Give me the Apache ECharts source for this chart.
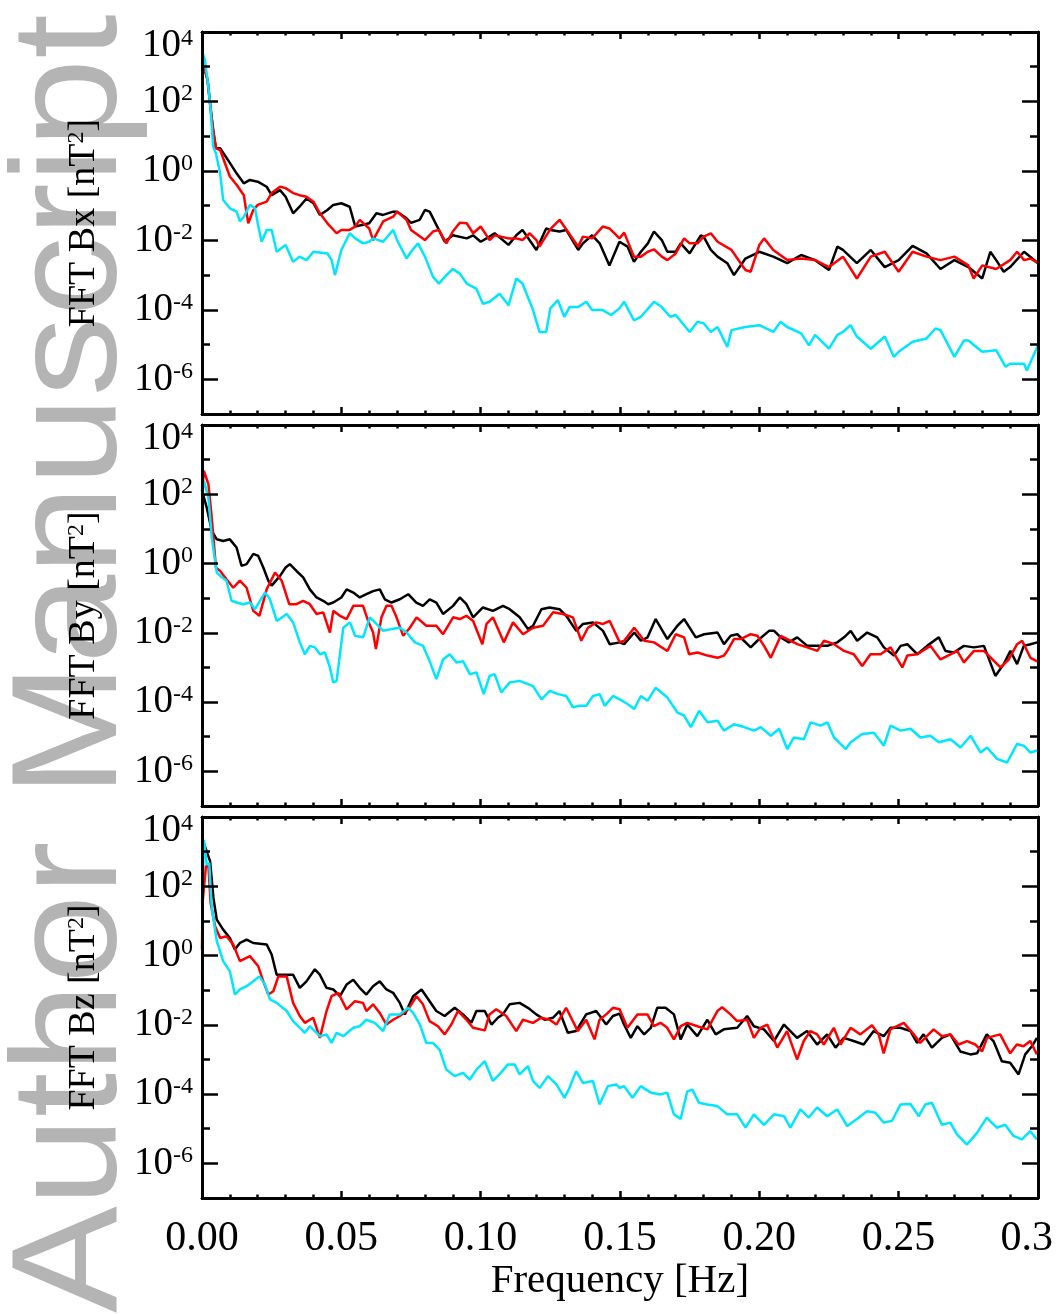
<!DOCTYPE html>
<html><head><meta charset="utf-8">
<script src="https://cdn.jsdelivr.net/npm/echarts@6/dist/echarts.min.js"></script>
<style>html,body{margin:0;padding:0;background:#fff}
.layer{position:absolute;left:0;top:0;width:1056px;height:1314px}
#wm{z-index:0}#c{z-index:1}#tk{z-index:2}</style>
</head><body><div id="wm" class="layer"></div><div id="c" class="layer"></div><div id="tk" class="layer"></div>
<script>
// ---------- DATA (frequency [Hz], power [nT^2]) ----------
const X_MIN = 0, X_MAX = 0.3, Y_MIN = 1e-7, Y_MAX = 1e4;
const yMajorTicks = [1e-6, 1e-4, 1e-2, 1, 1e2, 1e4];
const yMinorTicks = [1e-5, 1e-3, 1e-1, 10, 1e3];
const panelNames = ['Bx', 'By', 'Bz'];
const watermarkText = 'Author Manuscript';

const bxBlack = [[0,1300],[0.001,820],[0.002,420],[0.003,72],[0.004,15],[0.005,4.5],[0.0065,4.5],[0.010,1.7],[0.0124,0.85],[0.015,0.44],[0.0172,0.55],[0.020,0.49],[0.0232,0.35],[0.025,0.20],[0.028,0.28],[0.030,0.18],[0.0327,0.060],[0.035,0.093],[0.0375,0.16],[0.040,0.117],[0.0423,0.054],[0.045,0.075],[0.0471,0.105],[0.050,0.117],[0.053,0.093],[0.055,0.025],[0.0578,0.028],[0.060,0.031],[0.0626,0.060],[0.065,0.054],[0.0686,0.067],[0.070,0.067],[0.0734,0.043],[0.075,0.032],[0.0781,0.039],[0.080,0.075],[0.0817,0.067],[0.085,0.020],[0.0871,0.0091],[0.090,0.014],[0.095,0.0114],[0.0973,0.014],[0.100,0.0091],[0.1032,0.0128],[0.105,0.016],[0.110,0.0074],[0.1128,0.014],[0.115,0.020],[0.120,0.0053],[0.1235,0.022],[0.125,0.020],[0.1283,0.018],[0.1307,0.020],[0.135,0.0053],[0.1367,0.0082],[0.140,0.014],[0.1427,0.0082],[0.1462,0.0019],[0.1498,0.0091],[0.1527,0.0066],[0.155,0.0024],[0.1575,0.0047],[0.160,0.0082],[0.1622,0.018],[0.165,0.0102],[0.167,0.0047],[0.170,0.0047],[0.1718,0.0082],[0.175,0.0042],[0.179,0.014],[0.180,0.0128],[0.1826,0.0053],[0.185,0.0034],[0.1885,0.0022],[0.1909,0.0010],[0.195,0.0030],[0.200,0.0047],[0.205,0.0034],[0.210,0.0022],[0.215,0.0038],[0.220,0.0027],[0.225,0.0014],[0.228,0.0066],[0.230,0.0053],[0.235,0.0022],[0.240,0.0053],[0.245,0.0017],[0.250,0.0027],[0.255,0.0069],[0.260,0.0042],[0.265,0.0015],[0.270,0.0027],[0.275,0.0017],[0.280,8.0e-4],[0.2829,0.0047],[0.285,0.0027],[0.2877,0.00125],[0.290,0.0017],[0.295,0.0047],[0.300,0.0022]];
const bxRed = [[0,1150],[0.001,820],[0.002,420],[0.003,72],[0.004,15],[0.005,4.5],[0.0065,4.0],[0.010,0.69],[0.0124,0.40],[0.015,0.20],[0.0166,0.031],[0.0184,0.075],[0.020,0.105],[0.0232,0.13],[0.025,0.23],[0.028,0.35],[0.030,0.32],[0.0327,0.23],[0.035,0.20],[0.0375,0.18],[0.040,0.13],[0.0423,0.060],[0.045,0.031],[0.0483,0.016],[0.050,0.020],[0.053,0.020],[0.055,0.025],[0.0566,0.039],[0.060,0.022],[0.0614,0.0102],[0.065,0.035],[0.0686,0.048],[0.070,0.067],[0.0734,0.039],[0.075,0.020],[0.080,0.0102],[0.0829,0.018],[0.085,0.020],[0.0877,0.0082],[0.090,0.018],[0.0925,0.032],[0.095,0.031],[0.0973,0.016],[0.100,0.025],[0.1032,0.0102],[0.105,0.014],[0.110,0.0114],[0.1128,0.0114],[0.115,0.0102],[0.1176,0.016],[0.120,0.0102],[0.1211,0.0066],[0.125,0.021],[0.1283,0.039],[0.130,0.025],[0.135,0.0066],[0.1367,0.0128],[0.140,0.0114],[0.1438,0.025],[0.1462,0.022],[0.1498,0.0114],[0.1515,0.0167],[0.155,0.0034],[0.1575,0.0034],[0.160,0.0047],[0.1622,0.0055],[0.165,0.0034],[0.167,0.0027],[0.170,0.0042],[0.173,0.0114],[0.175,0.0082],[0.1778,0.0082],[0.180,0.0128],[0.1826,0.016],[0.185,0.0091],[0.190,0.0053],[0.195,0.0014],[0.1969,0.00125],[0.200,0.0074],[0.2017,0.0114],[0.205,0.0053],[0.210,0.0027],[0.215,0.0030],[0.220,0.0027],[0.225,0.0017],[0.230,0.0034],[0.235,8.0e-4],[0.240,0.0034],[0.245,0.0047],[0.250,0.00125],[0.255,0.0047],[0.260,0.0034],[0.265,0.0027],[0.270,0.0034],[0.275,0.0019],[0.2769,8.0e-4],[0.280,0.0019],[0.285,0.0015],[0.290,0.0027],[0.2925,0.0047],[0.295,0.0027],[0.2973,0.0030],[0.300,0.0022]];
const bxCyan = [[0,2800],[0.001,1600],[0.002,420],[0.003,72],[0.004,5.0],[0.005,3.2],[0.0065,0.85],[0.0076,0.145],[0.010,0.084],[0.0124,0.067],[0.0136,0.035],[0.015,0.048],[0.0172,0.105],[0.019,0.084],[0.020,0.031],[0.0214,0.0091],[0.0232,0.020],[0.025,0.020],[0.0268,0.0047],[0.030,0.0074],[0.0327,0.0024],[0.035,0.0034],[0.0375,0.0027],[0.040,0.0047],[0.045,0.0042],[0.0465,0.0027],[0.0477,0.0010],[0.050,0.0053],[0.053,0.016],[0.055,0.0114],[0.0578,0.0082],[0.060,0.0091],[0.0614,0.0114],[0.065,0.0091],[0.0686,0.020],[0.070,0.0102],[0.0734,0.0030],[0.075,0.0047],[0.0775,0.0082],[0.080,0.0034],[0.0829,8.9e-4],[0.085,5.7e-4],[0.0877,0.0010],[0.090,0.0015],[0.0925,0.0011],[0.095,5.7e-4],[0.0984,4.1e-4],[0.1008,1.5e-4],[0.1032,1.7e-4],[0.1068,2.9e-4],[0.110,1.35e-4],[0.1128,8.0e-4],[0.115,5.7e-4],[0.1188,9.8e-5],[0.1211,2.3e-5],[0.1235,2.3e-5],[0.125,1.1e-4],[0.1277,1.9e-4],[0.130,6.3e-5],[0.1319,1.2e-4],[0.135,1.2e-4],[0.1379,1.7e-4],[0.140,9.8e-5],[0.1438,9.8e-5],[0.1468,7.1e-5],[0.1498,1.1e-4],[0.1515,1.7e-4],[0.155,5.0e-5],[0.1575,6.3e-5],[0.1622,1.7e-4],[0.165,1.2e-4],[0.168,6.3e-5],[0.170,7.1e-5],[0.175,2.3e-5],[0.1778,4.5e-5],[0.180,4.1e-5],[0.1826,2.3e-5],[0.185,3.2e-5],[0.1885,8.5e-6],[0.190,2.6e-5],[0.195,3.2e-5],[0.200,3.6e-5],[0.205,2.3e-5],[0.2076,4.5e-5],[0.210,3.2e-5],[0.215,2.1e-5],[0.2178,9.5e-6],[0.220,1.9e-5],[0.225,7.6e-6],[0.228,1.9e-5],[0.230,2.3e-5],[0.2327,3.6e-5],[0.235,1.7e-5],[0.240,7.6e-6],[0.245,1.7e-5],[0.2483,4.4e-6],[0.250,6.2e-6],[0.255,1.2e-5],[0.260,1.5e-5],[0.2632,2.9e-5],[0.265,2.6e-5],[0.270,4.4e-6],[0.2734,1.3e-5],[0.275,1.3e-5],[0.280,6.2e-6],[0.285,6.9e-6],[0.2883,2.3e-6],[0.290,2.8e-6],[0.295,2.8e-6],[0.296,1.8e-6],[0.300,9.5e-6]];

const byBlack = [[0,125],[0.0017,41],[0.0035,8.8],[0.0053,5.0],[0.0076,4.5],[0.0100,5.0],[0.0124,2.9],[0.0142,0.86],[0.0160,0.96],[0.0184,1.9],[0.0202,1.66],[0.0220,0.77],[0.0238,0.32],[0.0250,0.23],[0.0280,0.44],[0.0300,0.77],[0.0315,0.96],[0.0339,0.61],[0.0363,0.40],[0.0387,0.18],[0.0411,0.105],[0.0435,0.084],[0.0453,0.067],[0.0471,0.075],[0.0500,0.105],[0.0519,0.18],[0.0543,0.145],[0.0566,0.105],[0.0590,0.13],[0.0614,0.16],[0.0638,0.18],[0.0656,0.093],[0.0680,0.075],[0.0710,0.093],[0.0740,0.13],[0.0769,0.075],[0.0793,0.060],[0.0817,0.093],[0.0841,0.075],[0.0865,0.035],[0.0901,0.060],[0.0925,0.105],[0.0949,0.067],[0.0973,0.028],[0.1008,0.054],[0.1044,0.043],[0.1080,0.060],[0.1104,0.048],[0.1140,0.028],[0.1170,0.0128],[0.1188,0.016],[0.1218,0.048],[0.1247,0.054],[0.1283,0.048],[0.1307,0.031],[0.1343,0.0114],[0.1367,0.018],[0.1403,0.020],[0.1439,0.0114],[0.1463,0.0047],[0.1499,0.0053],[0.1515,0.0047],[0.1551,0.0102],[0.1575,0.0059],[0.1599,0.0074],[0.1628,0.025],[0.1670,0.0066],[0.1706,0.016],[0.1730,0.025],[0.1772,0.0074],[0.1802,0.0091],[0.1850,0.0102],[0.1873,0.0047],[0.1897,0.0082],[0.1921,0.0091],[0.1969,0.0038],[0.1993,0.0059],[0.2035,0.0114],[0.2053,0.0114],[0.2077,0.0074],[0.2106,0.0053],[0.2136,0.0074],[0.2172,0.0042],[0.2208,0.0042],[0.2244,0.0042],[0.2280,0.0053],[0.2304,0.0074],[0.2328,0.0114],[0.2351,0.0059],[0.2387,0.0102],[0.2423,0.0074],[0.2447,0.0038],[0.2483,0.0022],[0.2507,0.0042],[0.2531,0.0047],[0.2567,0.0024],[0.2602,0.0042],[0.2644,0.0074],[0.2668,0.0030],[0.2698,0.0027],[0.2734,0.0042],[0.2770,0.0038],[0.2806,0.0042],[0.2847,5.7e-4],[0.2877,0.00125],[0.2901,0.0030],[0.2925,0.00125],[0.2949,0.0042],[0.2973,0.0047],[0.2997,0.0053]];
const byRed = [[0,125],[0.0007,470],[0.0023,195],[0.0035,21],[0.0050,0.77],[0.0065,0.61],[0.0088,0.35],[0.0112,0.20],[0.0136,0.32],[0.0160,0.20],[0.0184,0.043],[0.0206,0.031],[0.0232,0.18],[0.0262,0.55],[0.0286,0.32],[0.0313,0.067],[0.0339,0.067],[0.0363,0.084],[0.0387,0.067],[0.0411,0.035],[0.0435,0.039],[0.0459,0.0102],[0.0471,0.043],[0.0495,0.031],[0.0519,0.025],[0.0543,0.060],[0.0578,0.060],[0.0596,0.022],[0.0614,0.0102],[0.0624,0.0034],[0.0644,0.028],[0.0662,0.060],[0.0680,0.060],[0.0698,0.028],[0.0722,0.0082],[0.0746,0.014],[0.0770,0.028],[0.0805,0.016],[0.0841,0.016],[0.0865,0.0091],[0.0901,0.028],[0.0925,0.025],[0.0949,0.031],[0.0973,0.022],[0.1006,0.0047],[0.1021,0.018],[0.1044,0.028],[0.1083,0.0053],[0.1116,0.020],[0.1152,0.0091],[0.1188,0.014],[0.1224,0.016],[0.1260,0.039],[0.1295,0.035],[0.1331,0.028],[0.1361,0.0059],[0.1385,0.014],[0.1415,0.020],[0.1439,0.018],[0.1463,0.022],[0.1499,0.0053],[0.1515,0.0059],[0.1551,0.014],[0.1587,0.0059],[0.1622,0.0053],[0.1670,0.0030],[0.1700,0.0091],[0.1730,0.0074],[0.1748,0.0024],[0.1778,0.0027],[0.1814,0.0022],[0.1850,0.0019],[0.1873,0.0022],[0.1885,0.0030],[0.1909,0.0066],[0.1933,0.0066],[0.1969,0.0091],[0.1993,0.0082],[0.2017,0.0042],[0.2041,0.0019],[0.2077,0.0082],[0.2100,0.0066],[0.2136,0.0047],[0.2172,0.0038],[0.2208,0.0030],[0.2232,0.0059],[0.2268,0.0047],[0.2304,0.0030],[0.2339,0.0024],[0.2369,0.0011],[0.2399,0.0024],[0.2435,0.0024],[0.2471,0.0038],[0.2513,0.0010],[0.2531,0.0022],[0.2567,0.0024],[0.2614,0.0042],[0.2650,0.0017],[0.2686,0.0024],[0.2710,0.0030],[0.2734,0.0014],[0.2770,0.0030],[0.2806,0.0030],[0.2865,0.0010],[0.2895,0.0017],[0.2925,0.0047],[0.2943,0.0059],[0.2973,0.0019],[0.2997,0.0015]];
const byCyan = [[0,100],[0.0007,240],[0.0023,80],[0.0035,5.6],[0.0053,0.55],[0.0071,0.40],[0.0088,0.32],[0.0106,0.084],[0.0124,0.075],[0.0148,0.067],[0.0172,0.075],[0.0190,0.048],[0.0226,0.145],[0.0244,0.093],[0.0268,0.022],[0.0304,0.035],[0.0327,0.020],[0.0351,0.0053],[0.0369,0.0024],[0.0387,0.0042],[0.0405,0.0038],[0.0423,0.0024],[0.0441,0.0027],[0.0459,0.0010],[0.0471,3.7e-4],[0.0483,4.1e-4],[0.0507,0.014],[0.0531,0.020],[0.0549,0.0082],[0.0578,0.0074],[0.0602,0.028],[0.0626,0.018],[0.0650,0.0114],[0.0680,0.0128],[0.0710,0.014],[0.0734,0.0102],[0.0764,0.0053],[0.0793,0.0042],[0.0817,0.0015],[0.0841,4.6e-4],[0.0865,0.0017],[0.0889,0.0024],[0.0913,0.0014],[0.0937,0.0015],[0.0961,6.4e-4],[0.0985,7.2e-4],[0.1011,1.7e-4],[0.1032,5.7e-4],[0.1050,6.4e-4],[0.1074,1.9e-4],[0.1104,3.7e-4],[0.1140,4.1e-4],[0.1170,3.3e-4],[0.1188,2.9e-4],[0.1218,1.2e-4],[0.1248,2.1e-4],[0.1278,1.7e-4],[0.1307,1.5e-4],[0.1331,7.1e-5],[0.1355,7.8e-5],[0.1379,7.8e-5],[0.1403,1.5e-4],[0.1427,1.7e-4],[0.1445,7.8e-5],[0.1475,1.5e-4],[0.1499,1.2e-4],[0.1527,8.8e-5],[0.1551,6.3e-5],[0.1575,1.5e-4],[0.1599,1.1e-4],[0.1628,2.6e-4],[0.1670,1.35e-4],[0.1706,5.0e-5],[0.1730,4.1e-5],[0.1754,1.9e-5],[0.1784,5.6e-5],[0.1814,2.6e-5],[0.1850,2.9e-5],[0.1873,1.5e-5],[0.1909,2.3e-5],[0.1945,1.9e-5],[0.1981,1.5e-5],[0.2005,1.9e-5],[0.2041,1.07e-5],[0.2071,1.7e-5],[0.2100,4.4e-6],[0.2124,9.5e-6],[0.2160,8.5e-6],[0.2184,2.6e-5],[0.2220,2.1e-5],[0.2244,2.6e-5],[0.2268,9.5e-6],[0.2310,4.4e-6],[0.2328,6.9e-6],[0.2369,1.2e-5],[0.2411,1.3e-5],[0.2447,5.5e-6],[0.2471,2.1e-5],[0.2507,1.5e-5],[0.2543,1.7e-5],[0.2578,9.5e-6],[0.2614,1.07e-5],[0.2644,6.9e-6],[0.2686,8.5e-6],[0.2722,4.9e-6],[0.2758,1.07e-5],[0.2794,3.5e-6],[0.2817,4.9e-6],[0.2853,2.3e-6],[0.2889,1.8e-6],[0.2925,6.2e-6],[0.2949,5.5e-6],[0.2973,3.5e-6],[0.2997,4.0e-6]];

const bzBlack = [[0,2500],[0.0017,1000],[0.0029,530],[0.0041,46],[0.0053,10.9],[0.0076,5.6],[0.0100,3.2],[0.0118,1.49],[0.0136,2.3],[0.0160,2.9],[0.0184,2.3],[0.0208,2.2],[0.0232,2.1],[0.0250,1.07],[0.0268,0.28],[0.0292,0.28],[0.0327,0.28],[0.0351,0.117],[0.0375,0.18],[0.0405,0.40],[0.0423,0.28],[0.0447,0.117],[0.0471,0.105],[0.0495,0.067],[0.0519,0.145],[0.0543,0.20],[0.0566,0.117],[0.0590,0.075],[0.0614,0.13],[0.0638,0.18],[0.0662,0.105],[0.0686,0.084],[0.0710,0.043],[0.0728,0.020],[0.0758,0.067],[0.0788,0.105],[0.0817,0.048],[0.0841,0.025],[0.0871,0.018],[0.0907,0.031],[0.0937,0.020],[0.0967,0.0114],[0.0985,0.025],[0.1015,0.025],[0.1039,0.0102],[0.1062,0.016],[0.1080,0.020],[0.1104,0.039],[0.1140,0.043],[0.1170,0.031],[0.1200,0.020],[0.1230,0.014],[0.1260,0.016],[0.1283,0.025],[0.1313,0.0059],[0.1343,0.0066],[0.1379,0.020],[0.1415,0.025],[0.1451,0.0102],[0.1475,0.018],[0.1499,0.021],[0.1515,0.0102],[0.1539,0.0042],[0.1563,0.0091],[0.1587,0.0053],[0.1611,0.0082],[0.1634,0.031],[0.1664,0.031],[0.1694,0.020],[0.1718,0.0038],[0.1742,0.0102],[0.1778,0.0047],[0.1814,0.014],[0.1844,0.0053],[0.1873,0.0074],[0.1921,0.0082],[0.1957,0.018],[0.1981,0.0091],[0.2017,0.0074],[0.2053,0.0034],[0.2089,0.0102],[0.2136,0.0042],[0.2172,0.0066],[0.2208,0.0027],[0.2244,0.0053],[0.2274,0.0022],[0.2304,0.0042],[0.2339,0.0034],[0.2375,0.0027],[0.2411,0.0066],[0.2447,0.0047],[0.2471,0.0082],[0.2507,0.0082],[0.2543,0.0066],[0.2567,0.0030],[0.2590,0.0053],[0.2620,0.0022],[0.2656,0.0042],[0.2686,0.0053],[0.2722,0.0017],[0.2758,0.0014],[0.2782,0.0015],[0.2817,0.0053],[0.2841,0.0034],[0.2871,8.9e-4],[0.2901,8.0e-4],[0.2931,3.7e-4],[0.2955,0.0014],[0.2979,0.0024],[0.2997,0.0042]];
const bzRed = [[0,1.5],[0.0002,33],[0.0014,380],[0.0023,380],[0.0031,33],[0.0047,7.0],[0.0065,3.2],[0.0088,3.6],[0.0112,2.1],[0.0136,0.69],[0.0172,0.96],[0.0202,0.49],[0.0220,0.18],[0.0238,0.075],[0.0256,0.093],[0.0274,0.25],[0.0304,0.25],[0.0327,0.043],[0.0351,0.018],[0.0369,0.0114],[0.0399,0.016],[0.0423,0.0042],[0.0447,0.025],[0.0465,0.067],[0.0489,0.084],[0.0519,0.028],[0.0549,0.048],[0.0578,0.043],[0.0590,0.025],[0.0614,0.039],[0.0638,0.022],[0.0662,0.0102],[0.0686,0.014],[0.0710,0.018],[0.0740,0.028],[0.0770,0.067],[0.0793,0.039],[0.0817,0.0128],[0.0847,0.0091],[0.0871,0.0053],[0.0895,0.0102],[0.0919,0.025],[0.0949,0.014],[0.0973,0.0082],[0.1015,0.0069],[0.1032,0.020],[0.1056,0.028],[0.1092,0.018],[0.1128,0.0066],[0.1152,0.014],[0.1188,0.0114],[0.1218,0.016],[0.1248,0.014],[0.1272,0.0102],[0.1307,0.031],[0.1349,0.0066],[0.1379,0.014],[0.1409,0.0038],[0.1427,0.014],[0.1451,0.020],[0.1475,0.031],[0.1499,0.028],[0.1527,0.0082],[0.1563,0.020],[0.1599,0.020],[0.1622,0.0091],[0.1646,0.0114],[0.1670,0.0082],[0.1694,0.0038],[0.1718,0.0091],[0.1742,0.0114],[0.1778,0.0091],[0.1814,0.0074],[0.1850,0.025],[0.1867,0.032],[0.1897,0.020],[0.1921,0.0128],[0.1957,0.014],[0.1981,0.0042],[0.2005,0.0082],[0.2029,0.0102],[0.2065,0.0022],[0.2100,0.0066],[0.2136,0.0010],[0.2160,0.0034],[0.2184,0.0066],[0.2208,0.0053],[0.2232,0.0027],[0.2268,0.0082],[0.2292,0.0027],[0.2328,0.0082],[0.2363,0.0053],[0.2405,0.0097],[0.2429,0.0053],[0.2447,0.0015],[0.2471,0.0074],[0.2519,0.0114],[0.2555,0.0053],[0.2578,0.0030],[0.2626,0.0074],[0.2656,0.0047],[0.2686,0.0053],[0.2716,0.0027],[0.2746,0.0034],[0.2776,0.0027],[0.2800,0.0017],[0.2818,0.0042],[0.2865,0.0053],[0.2901,0.0015],[0.2925,0.0027],[0.2949,0.0024],[0.2973,0.0034],[0.2997,0.0014]];
const bzCyan = [[0,33],[0.0007,2200],[0.0017,420],[0.0026,470],[0.0035,24],[0.0053,2.6],[0.0076,0.69],[0.0100,0.35],[0.0118,0.075],[0.0136,0.105],[0.0160,0.13],[0.0184,0.18],[0.0206,0.25],[0.0226,0.145],[0.0244,0.054],[0.0268,0.043],[0.0304,0.025],[0.0327,0.0128],[0.0351,0.0082],[0.0369,0.0059],[0.0387,0.0091],[0.0423,0.0047],[0.0447,0.0053],[0.0465,0.0030],[0.0483,0.0059],[0.0507,0.0047],[0.0543,0.0082],[0.0566,0.0091],[0.0590,0.014],[0.0620,0.0114],[0.0650,0.0066],[0.0674,0.020],[0.0710,0.020],[0.0740,0.031],[0.0758,0.022],[0.0782,0.0102],[0.0805,0.0030],[0.0829,0.0030],[0.0853,0.0019],[0.0877,5.1e-4],[0.0907,3.3e-4],[0.0937,4.1e-4],[0.0961,2.6e-4],[0.0985,5.1e-4],[0.1015,8.9e-4],[0.1044,2.4e-4],[0.1068,3.7e-4],[0.1098,7.2e-4],[0.1122,7.2e-4],[0.1140,3.7e-4],[0.1170,6.4e-4],[0.1188,2.4e-4],[0.1212,1.5e-4],[0.1242,3.3e-4],[0.1272,1.9e-4],[0.1301,7.8e-5],[0.1319,1.5e-4],[0.1343,4.6e-4],[0.1367,2.1e-4],[0.1403,2.4e-4],[0.1427,5.0e-5],[0.1457,1.7e-4],[0.1487,1.9e-4],[0.1499,1.5e-4],[0.1515,1.7e-4],[0.1545,7.8e-5],[0.1575,1.7e-4],[0.1611,1.1e-4],[0.1646,9.8e-5],[0.1670,1.1e-4],[0.1694,2.6e-5],[0.1718,1.9e-5],[0.1742,1.2e-4],[0.1760,1.35e-4],[0.1784,5.6e-5],[0.1814,5.0e-5],[0.1850,4.5e-5],[0.1885,2.6e-5],[0.1921,2.6e-5],[0.1951,1.07e-5],[0.1981,2.6e-5],[0.2017,1.3e-5],[0.2053,2.6e-5],[0.2089,2.3e-5],[0.2112,1.07e-5],[0.2148,3.6e-5],[0.2178,2.1e-5],[0.2208,4.1e-5],[0.2244,2.3e-5],[0.2280,3.6e-5],[0.2316,1.2e-5],[0.2351,1.9e-5],[0.2387,3.2e-5],[0.2417,2.9e-5],[0.2447,1.5e-5],[0.2477,1.7e-5],[0.2507,5.0e-5],[0.2543,5.2e-5],[0.2573,2.3e-5],[0.2596,5.0e-5],[0.2620,5.6e-5],[0.2656,1.3e-5],[0.2686,1.5e-5],[0.2710,6.9e-6],[0.2746,3.5e-6],[0.2782,7.6e-6],[0.2817,2.1e-5],[0.2853,1.07e-5],[0.2883,1.3e-5],[0.2913,6.2e-6],[0.2943,4.9e-6],[0.2973,8.5e-6],[0.2997,4.9e-6]];

const panelData = [[bxBlack, bxRed, bxCyan], [byBlack, byRed, byCyan], [bzBlack, bzRed, bzCyan]];
const lineColors = ['#000000', '#ff0000', '#00e6ff'];

const gridBoxes = [{top: 32, height: 382}, {top: 425, height: 381}, {top: 817, height: 381}];
const makeGrid = () => gridBoxes.map(b => ({left: 202, width: 836, top: b.top, height: b.height, containLabel: false}));
const SERIF = '"Liberation Serif","Times New Roman",Times,serif';

// ---------- WATERMARK (background layer) ----------
echarts.init(document.getElementById('wm'), null, {renderer: 'canvas', width: 1056, height: 1314}).setOption({
  animation: false,
  graphic: [{
    type: 'text', x: 75, y: 1313, rotation: Math.PI / 2, scaleX: 1.067,
    style: {text: watermarkText, fontSize: 150, fontFamily: '"Liberation Sans", Arial, sans-serif',
            fill: '#b4b4b4', align: 'left', verticalAlign: 'middle'}
  }]
});

// ---------- MAIN CHART (frame, labels, titles, spectra) ----------
function xAx(g, pos, labels, name) {
  return {
    gridIndex: g, type: 'value', min: X_MIN, max: X_MAX, interval: 0.05, position: pos,
    axisLine: {show: true, onZero: false, lineStyle: {color: '#000', width: 2.5}},
    axisTick: {show: false}, splitLine: {show: false},
    axisLabel: {
      show: labels, margin: 20, color: '#000', fontFamily: SERIF, fontSize: 42,
      formatter: v => Math.abs(v - X_MAX) < 1e-9 ? '{last|0.3}' : v.toFixed(2),
      rich: {last: {fontFamily: SERIF, fontSize: 42, color: '#000', padding: [0, 22, 0, 0]}}
    },
    name: name || '', nameLocation: 'middle', nameGap: 62,
    nameTextStyle: {fontFamily: SERIF, fontSize: 41, color: '#000'}
  };
}
function yAx(g, pos, labels, name) {
  return {
    gridIndex: g, type: 'log', min: Y_MIN, max: Y_MAX, position: pos,
    axisLine: {show: true, onZero: false, lineStyle: {color: '#000', width: 2.5}},
    axisTick: {show: false}, splitLine: {show: false},
    axisLabel: {
      show: labels, customValues: yMajorTicks, margin: 9, color: '#000',
      formatter: v => {
        const e = Math.round(Math.log10(v));
        return v >= Y_MAX ? '{bt|10}{st|' + e + '}' : '{b|10}{s|' + e + '}';
      },
      rich: {
        b: {fontFamily: SERIF, fontSize: 39, color: '#000'},
        s: {fontFamily: SERIF, fontSize: 24, color: '#000', verticalAlign: 'top'},
        bt: {fontFamily: SERIF, fontSize: 39, color: '#000', padding: [28, 0, 0, 0]},
        st: {fontFamily: SERIF, fontSize: 24, color: '#000', verticalAlign: 'top', padding: [28, 0, 0, 0]}
      }
    },
    name: name || '', nameLocation: 'middle', nameRotate: 90, nameGap: 99,
    nameTextStyle: {
      fontFamily: SERIF, fontSize: 38, color: '#000',
      rich: {s: {fontFamily: SERIF, fontSize: 24, color: '#000', verticalAlign: 'top'}}
    }
  };
}
const xAxis = [], yAxis = [], series = [];
for (let g = 0; g < 3; g++) {
  const last = g === 2;
  xAxis.push(xAx(g, 'bottom', last, last ? 'Frequency [Hz]' : ''));
  xAxis.push(xAx(g, 'top', false));
  yAxis.push(yAx(g, 'left', true, 'FFT ' + panelNames[g] + ' [nT{s|2}]'));
  yAxis.push(yAx(g, 'right', false));
  panelData[g].forEach((d, k) => {
    series.push({
      type: 'line', xAxisIndex: g * 2, yAxisIndex: g * 2, data: d,
      showSymbol: false, symbol: 'none', z: 2 + k,
      lineStyle: {color: lineColors[k], width: 2.5}, itemStyle: {color: lineColors[k]}
    });
  });
}
echarts.init(document.getElementById('c'), null, {renderer: 'canvas', width: 1056, height: 1314})
  .setOption({animation: false, grid: makeGrid(), xAxis: xAxis, yAxis: yAxis, series: series});

// ---------- TICK OVERLAY (inward major/minor ticks on the same axes) ----------
const tx = (g, pos, iv, len) => ({gridIndex: g, type: 'value', min: X_MIN, max: X_MAX, interval: iv, position: pos,
  axisLine: {show: true, onZero: false, lineStyle: {color: '#000', width: 2.5}},
  axisTick: {show: true, inside: true, length: len, lineStyle: {color: '#000', width: 2.5}},
  splitLine: {show: false}, axisLabel: {show: false}});
const ty = (g, pos, vals, len) => ({gridIndex: g, type: 'log', min: Y_MIN, max: Y_MAX, position: pos,
  axisLine: {show: true, onZero: false, lineStyle: {color: '#000', width: 2.5}},
  axisTick: {show: true, inside: true, length: len, customValues: vals, lineStyle: {color: '#000', width: 2.5}},
  splitLine: {show: false}, axisLabel: {show: false}});
const tkX = [], tkY = [], tkS = [];
for (let g = 0; g < 3; g++) {
  tkX.push(tx(g, 'bottom', 0.05, 7), tx(g, 'bottom', 0.01, 3.5), tx(g, 'top', 0.05, 7), tx(g, 'top', 0.01, 3.5));
  tkY.push(ty(g, 'left', yMajorTicks, 16), ty(g, 'left', yMinorTicks, 8), ty(g, 'right', yMajorTicks, 16), ty(g, 'right', yMinorTicks, 8));
  tkS.push({type: 'line', xAxisIndex: g * 4, yAxisIndex: g * 4, data: [], showSymbol: false});
}
echarts.init(document.getElementById('tk'), null, {renderer: 'canvas', width: 1056, height: 1314})
  .setOption({animation: false, grid: makeGrid(), xAxis: tkX, yAxis: tkY, series: tkS});
</script>
</body></html>
